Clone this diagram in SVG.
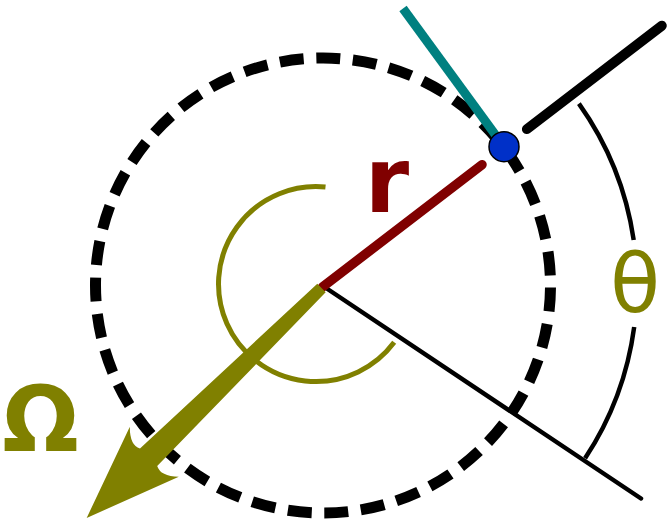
<svg xmlns="http://www.w3.org/2000/svg" width="669" height="521" viewBox="0 0 669 521">
  <style>
    .blk { fill: none; stroke: #000; }
    .lbl { font-family: "DejaVu Sans", "Liberation Sans", sans-serif; text-anchor: middle; }
  </style>
  <rect width="669" height="521" fill="#fff"/>
  <g id="orbit">
    <path class="blk" d="M550.5,285.5 A227.5,227.5 0 1 1 95.5,285.5 A227.5,227.5 0 1 1 550.5,285.5" stroke-width="11" stroke-dasharray="24 12.65" stroke-dashoffset="34.6"/>
  </g>
  <g id="connectors">
    <path id="theta-arc-top" class="blk" stroke-width="4.5" d="M578.9,103.6 A314,314 0 0 1 633.7,240"/>
    <path id="theta-arc-bottom" class="blk" stroke-width="4.5" d="M634.2,327 A314,314 0 0 1 585.1,458.3"/>
    <line id="ref-axis" class="blk" stroke-width="4.5" stroke-linecap="round" x1="323" y1="286" x2="641" y2="498.5"/>
    <line id="radial-ext" class="blk" stroke-width="10" stroke-linecap="round" x1="526.9" y1="129.1" x2="661.8" y2="25.7"/>
    <path id="spin-arc" d="M325.5,187 A97.5,97.5 0 1 0 394.2,342.3" fill="none" stroke="#808000" stroke-width="5"/>
    <path id="radius" d="M322.5,287 L482,164.7" fill="none" stroke="#800000" stroke-width="9.5" stroke-linecap="round"/>
    <path id="omega-arrow" transform="translate(321.5,288) rotate(135.6)" fill="#808000" d="M0,-6 L242,-12.3 Q247,-22 234,-35 L328.7,0 L234,35 Q247,22 242,12.3 L0,6 Z"/>
    <line id="tangent" x1="403" y1="8.5" x2="504" y2="146.7" stroke="#008080" stroke-width="9"/>
  </g>
  <g id="particle">
    <circle cx="504" cy="146.7" r="15" fill="#0030c8" stroke="#000" stroke-width="1.5"/>
  </g>
  <g id="label-r">
    <text class="lbl" x="387" y="212" font-size="90" font-weight="bold" fill="#800000">r</text>
  </g>
  <g id="label-omega">
    <text class="lbl" x="40.5" y="451" font-size="90" font-weight="bold" fill="#808000">Ω</text>
  </g>
  <g id="label-theta">
    <text class="lbl" x="635" y="312" font-size="82" fill="#808000">θ</text>
  </g>
</svg>
